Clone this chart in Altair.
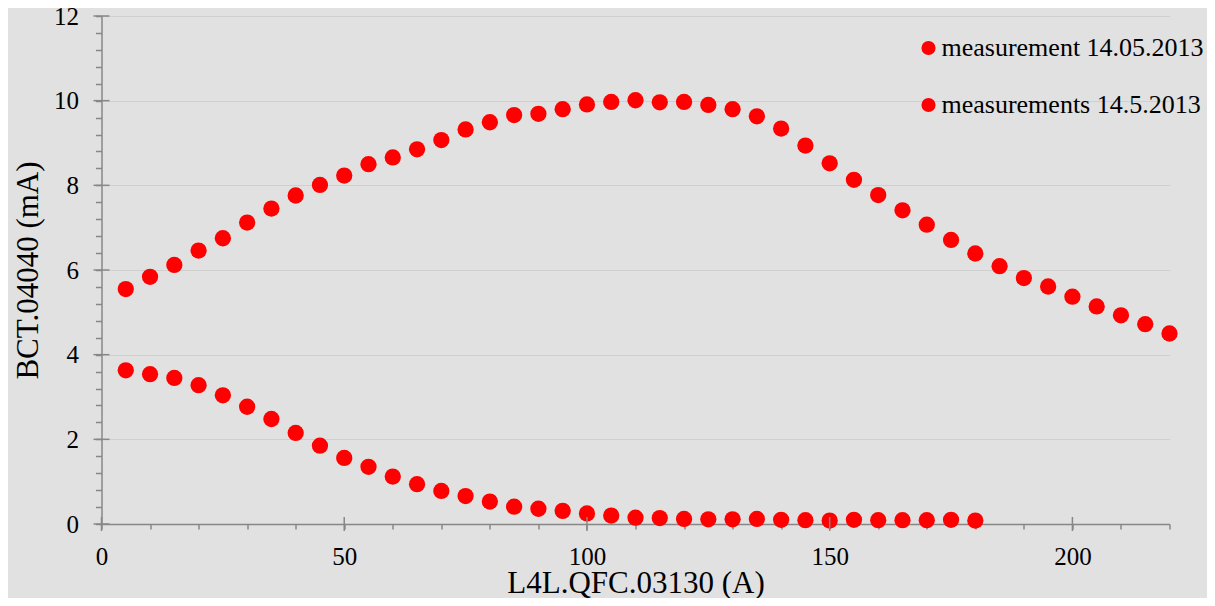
import altair as alt
import pandas as pd

# ---- data ----
series_names = ["measurement 14.05.2013", "measurements 14.5.2013"]

current_a = [5, 10, 15, 20, 25, 30, 35, 40, 45, 50,
             55, 60, 65, 70, 75, 80, 85, 90, 95, 100,
             105, 110, 115, 120, 125, 130, 135, 140, 145, 150,
             155, 160, 165, 170, 175, 180, 185, 190, 195, 200,
             205, 210, 215, 220]
bct_a = [5.55, 5.84, 6.12, 6.46, 6.75, 7.12, 7.45, 7.76, 8.01, 8.23,
         8.50, 8.66, 8.85, 9.07, 9.32, 9.49, 9.66, 9.69, 9.80, 9.91,
         9.97, 10.01, 9.96, 9.97, 9.90, 9.80, 9.63, 9.34, 8.94, 8.52,
         8.13, 7.77, 7.41, 7.07, 6.71, 6.39, 6.09, 5.81, 5.61, 5.37,
         5.14, 4.93, 4.72, 4.50]

current_b = [5, 10, 15, 20, 25, 30, 35, 40, 45, 50,
             55, 60, 65, 70, 75, 80, 85, 90, 95, 100,
             105, 110, 115, 120, 125, 130, 135, 140, 145, 150,
             155, 160, 165, 170, 175, 180]
bct_b = [3.63, 3.54, 3.45, 3.28, 3.04, 2.77, 2.48, 2.15, 1.85, 1.56,
         1.35, 1.12, 0.94, 0.78, 0.66, 0.53, 0.41, 0.36, 0.31, 0.25,
         0.20, 0.15, 0.14, 0.12, 0.11, 0.11, 0.12, 0.10, 0.09, 0.08,
         0.10, 0.09, 0.09, 0.09, 0.10, 0.08]

x_tick_values = [0, 10, 20, 30, 40, 50, 60, 70, 80, 90, 100, 110,
                 120, 130, 140, 150, 160, 170, 180, 190, 200, 210, 220]
y_tick_values = [0, 0.4, 0.8, 1.2, 1.6, 2, 2.4, 2.8, 3.2, 3.6, 4, 4.4,
                 4.8, 5.2, 5.6, 6, 6.4, 6.8, 7.2, 7.6, 8, 8.4, 8.8, 9.2,
                 9.6, 10, 10.4, 10.8, 11.2, 11.6, 12]
x_major = [0, 50, 100, 150, 200]
y_major = [0, 2, 4, 6, 8, 10, 12]

df = pd.concat([
    pd.DataFrame({"current": current_a, "bct": bct_a, "series": series_names[0]}),
    pd.DataFrame({"current": current_b, "bct": bct_b, "series": series_names[1]}),
], ignore_index=True)

x_major_df = pd.DataFrame({"current": x_major, "bct": [0] * len(x_major)})
y_major_df = pd.DataFrame({"current": [0] * len(y_major), "bct": y_major})

FONT = "'Liberation Serif', 'Times New Roman', 'DejaVu Serif', serif"
AXIS_GRAY = "#878787"
RED = "#ff0000"

x_major_test = "datum.value % 50 === 0"
y_major_test = "abs(datum.value / 2 - round(datum.value / 2)) < 0.001"

x_scale = alt.Scale(domain=[0, 220], nice=False, zero=False)
y_scale = alt.Scale(domain=[0, 12], nice=False)

x_enc = alt.X("current:Q", scale=x_scale, axis=alt.Axis(
    values=x_tick_values,
    title="L4L.QFC.03130 (A)",
    labelExpr=f"{x_major_test} ? format(datum.value, 'd') : ''",
    tickSize=5,
    grid=False,
    labelFont=FONT, titleFont=FONT,
    labelFontSize=25, labelPadding=15,
    labelFlush=False, labelOverlap=False,
    titleFontSize=31,
    titleX=534, titleY=68, titleBaseline="alphabetic", titleAlign="center",
))
y_enc = alt.Y("bct:Q", scale=y_scale, axis=alt.Axis(
    values=y_tick_values,
    title="BCT.04040 (mA)",
    labelExpr=f"{y_major_test} ? format(datum.value, '.0f') : ''",
    tickSize=6,
    grid=True, gridColor="#cfcfcf", gridWidth=1,
    gridOpacity={"condition": {"test": y_major_test, "value": 1}, "value": 0},
    labelFont=FONT, titleFont=FONT,
    labelFontSize=25, labelPadding=17,
    labelFlush=False, labelOverlap=False,
    titleFontSize=31,
    titleX=-64.5, titleY=254, titleAngle=270, titleBaseline="alphabetic", titleAlign="center",
))

points = alt.Chart(df).mark_point(
    filled=True, shape="circle", size=265, opacity=1, color=RED, strokeWidth=0
).encode(
    x=x_enc,
    y=y_enc,
    color=alt.Color("series:N",
                    scale=alt.Scale(domain=series_names, range=[RED, RED]),
                    sort=series_names,
                    legend=alt.Legend(
                        orient="none", legendX=814, legendY=19, title=None,
                        symbolType="circle", symbolSize=200, symbolFillColor=RED,
                        symbolStrokeWidth=0, symbolOpacity=1,
                        labelFont=FONT, labelFontSize=26, labelColor="black",
                        labelOffset=0, rowPadding=31, padding=0, labelLimit=500,
                    )),
)

# major tick marks that cross the axis lines
x_major_ticks = alt.Chart(x_major_df).mark_tick(
    orient="vertical", size=14, thickness=1.5, color=AXIS_GRAY, opacity=1
).encode(
    x=alt.X("current:Q", scale=x_scale, axis=None),
    y=alt.Y("bct:Q", scale=y_scale, axis=None),
)

y_major_ticks = alt.Chart(y_major_df).mark_tick(
    orient="horizontal", size=16, thickness=1.5, color=AXIS_GRAY, opacity=1
).encode(
    x=alt.X("current:Q", scale=x_scale, axis=None),
    y=alt.Y("bct:Q", scale=y_scale, axis=None),
)

chart = alt.layer(points, x_major_ticks, y_major_ticks).resolve_axis(
    x="independent", y="independent"
).properties(
    width=1068, height=508,
    autosize=alt.AutoSizeParams(type="none"),
    padding={"left": 93.5, "top": 8, "right": 37.5, "bottom": 74},
    background="#e1e1e1",
).configure(
    font=FONT
).configure_axis(
    labelFont=FONT, titleFont=FONT, labelColor="black", titleColor="black",
    titleFontWeight="normal",
    domainColor=AXIS_GRAY, domainWidth=1.5, tickColor=AXIS_GRAY, tickWidth=1.5,
).configure_legend(
    labelFont=FONT, labelColor="black",
).configure_view(stroke=None)

chart.save("out.html", embed_options={"renderer": "svg", "actions": False})
